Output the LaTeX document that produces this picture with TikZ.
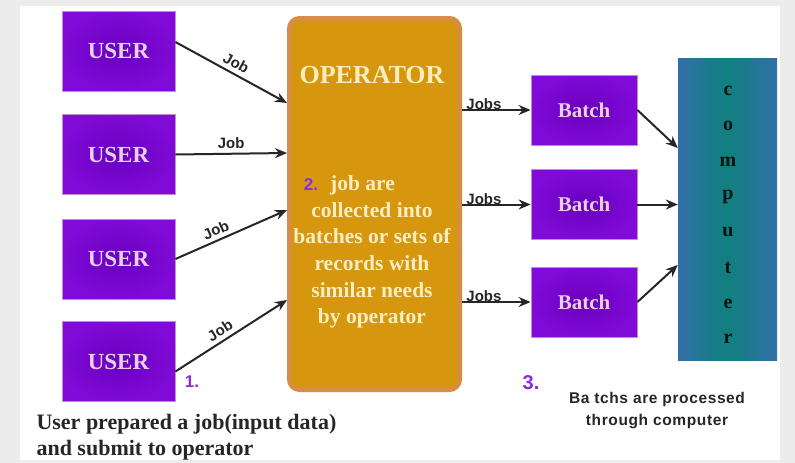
\documentclass[tikz,border=0pt]{standalone}
\usepackage{fontspec}
\setmainfont{Liberation Serif}
\setsansfont{Liberation Sans}
\newfontfamily\tagfont[LetterSpace=4]{Liberation Sans}
\usetikzlibrary{arrows.meta,positioning,calc}

\definecolor{userpurple}{RGB}{104,0,190}
\definecolor{userglow}{RGB}{128,10,215}
\definecolor{opgold}{RGB}{214,150,14}
\definecolor{opedge}{RGB}{216,142,66}
\definecolor{optext}{RGB}{250,238,192}
\definecolor{compteal}{RGB}{16,128,126}
\definecolor{compblue}{RGB}{50,112,168}
\definecolor{stepviolet}{RGB}{140,44,222}
\definecolor{arrowgray}{RGB}{38,38,38}

\tikzset{
  userbox/.style={draw=violet!45, line width=0.8pt, inner color=userpurple, outer color=userglow,
    minimum width=113pt, minimum height=80pt, text=white!82!violet,
    font=\bfseries\fontsize{23}{23}\selectfont},
  batchbox/.style={userbox, minimum width=106pt, minimum height=70pt,
    font=\bfseries\fontsize{21}{21}\selectfont},
  opbox/.style={rounded corners=10pt, fill=opgold, draw=opedge, line width=5pt,
    minimum width=170pt, minimum height=371pt},
  optext/.style={text=optext, align=center, font=\bfseries\fontsize{21.5}{26.6}\selectfont},
  compbox/.style={left color=compblue, right color=compblue, middle color=compteal,
    minimum width=99pt, minimum height=302pt},
  complet/.style={text=black!85!teal, font=\bfseries\fontsize{20}{20}\selectfont},
  jobarrow/.style={draw=arrowgray, line width=2pt, -{Stealth[length=12pt,width=10pt]}},
  jobtag/.style={text=arrowgray, inner sep=1pt, font=\sffamily\bfseries\fontsize{15}{15}\selectfont},
  steptag/.style={text=stepviolet, font=\sffamily\bfseries\fontsize{17}{17}\selectfont},
  notetext/.style={text=black!85, align=left, font=\bfseries\fontsize{22}{26}\selectfont},
  notesans/.style={text=black!85, align=center, font=\tagfont\bfseries\fontsize{15.5}{22}\selectfont}
}

\begin{document}
\begin{tikzpicture}[x=1pt, y=-1pt]
  \useasboundingbox (0,0) rectangle (795,463);
  % page frame
  \fill[gray!15] (0,0) rectangle (795,463);
  \fill[white] (20,6) rectangle (780,460);

  % users
  \foreach \y [count=\k] in {51,154.5,259,361.5}{
    \node[userbox] (u\k) at (118.5,\y) {USER};
  }

  % operator
  \node[opbox] (op) at (374.5,204) {};
  \node[optext] (optitle) at (372,75) {\fontsize{26}{26}\selectfont OPERATOR};
  \node[optext] (opbody) at (372,252) {\hspace*{-19pt}job are\\collected into\\batches or sets of\\records with\\similar needs\\by operator};
  \node[steptag] (step2) at (311,185) {2.};

  % batches and computer
  \node[batchbox] (b1) at (584,110) {Batch};
  \node[batchbox] (b2) at (584,204.5) {Batch};
  \node[batchbox] (b3) at (584,302) {Batch};
  \node[compbox] (comp) at (727.5,209) {};
  \foreach \ch [count=\k] in {c,o,m,p,u,t,e,r}{
    \node[complet] (c\k) at (728,55+35.5*\k) {\ch};
  }

  % users to operator
  \draw[jobarrow] ($(u1.east)+(0,-9)$) -- ($(op.west)+(0,-101)$) node[jobtag, midway, above=3pt, sloped] {Job};
  \draw[jobarrow] (u2.east) -- ($(op.west)+(0,-51)$) node[jobtag, midway, above=3pt, sloped] {Job};
  \draw[jobarrow] (u3.east) -- ($(op.west)+(0,6)$) node[jobtag, pos=0.4, above=3pt, sloped] {Job};
  \draw[jobarrow] ($(u4.east)+(0,10)$) -- ($(op.west)+(0,96)$) node[jobtag, pos=0.45, above=3pt, sloped] {Job};

  % operator to batches
  \foreach \k in {1,2,3}{
    \draw[jobarrow] (op.east |- b\k.west) -- (b\k.west) node[jobtag, pos=0.32, above=-2pt] {Jobs};
  }

  % batches to computer
  \draw[jobarrow] (b1.east) -- ($(comp.west)+(0,-61)$);
  \draw[jobarrow] (b2.east) -- (b2.east -| comp.west);
  \draw[jobarrow] (b3.east) -- ($(comp.west)+(0,56)$);

  % notes
  \node[steptag] (step1) at (192,382) {1.};
  \node[notetext, anchor=north west] (note1) at (33,411) {User prepared a job(input data)\\and submit to operator};
  \node[steptag, font=\sffamily\bfseries\fontsize{20}{20}\selectfont] (step3) at (531,383) {3.};
  \node[notesans] (note3) at (657,411) {Ba tchs are processed\\through computer};
\end{tikzpicture}
\end{document}
